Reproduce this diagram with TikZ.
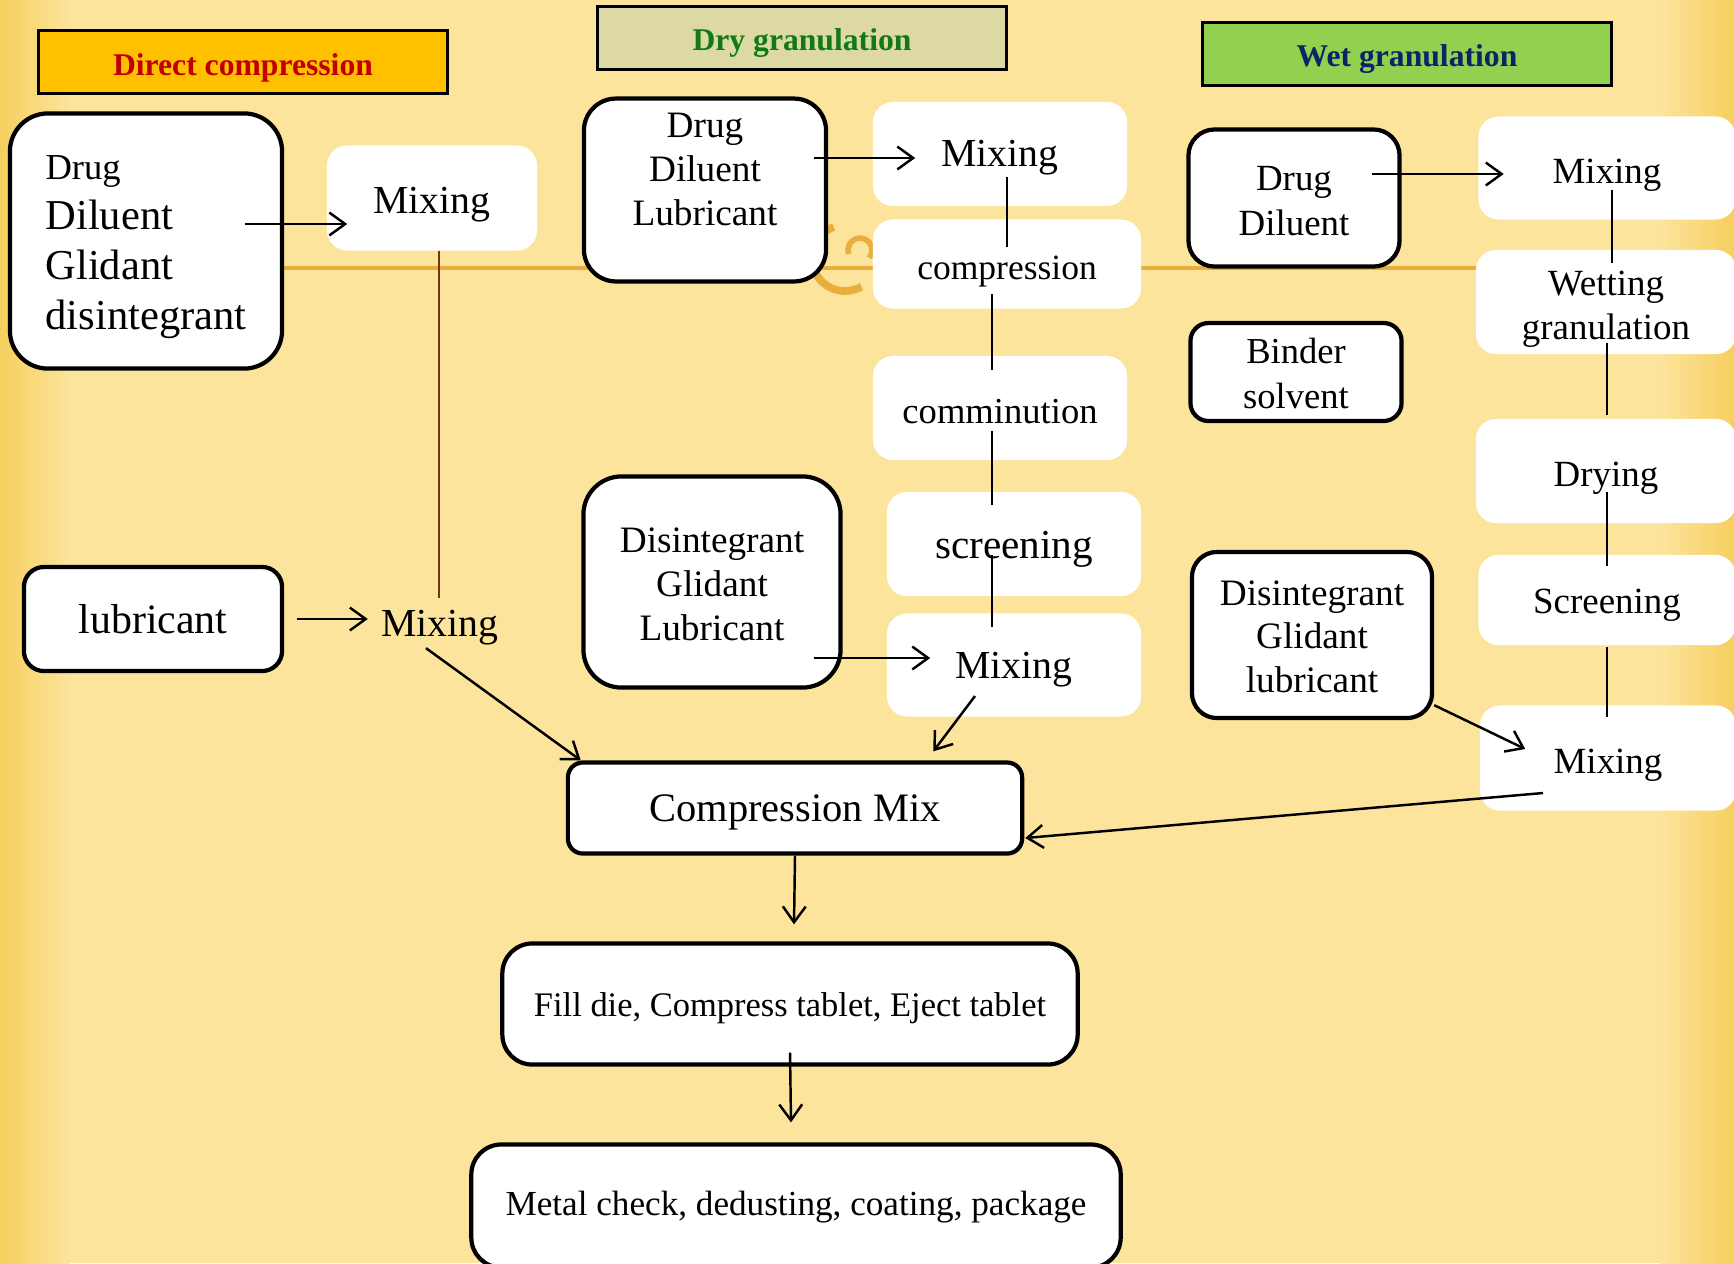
\documentclass[tikz,border=0pt]{standalone}
\usepackage{fontspec}
\setmainfont{Liberation Serif}
\usepackage{tikz}
\usetikzlibrary{calc,positioning,arrows.meta,shapes}
\usepackage{xcolor}

\definecolor{bgyellow}{HTML}{FCE49C}
\definecolor{bgedge}{HTML}{F6CF5E}
\definecolor{swirl}{HTML}{E9AE3E}
\definecolor{dcfill}{HTML}{FFC000}
\definecolor{dctext}{HTML}{C00000}
\definecolor{dgfill}{HTML}{DDD9A4}
\definecolor{dgtext}{HTML}{127A12}
\definecolor{wgfill}{HTML}{92D050}
\definecolor{wgtext}{HTML}{0C2466}
\definecolor{stem}{HTML}{7A2E14}

% raise the first line's top so the text sits a little lower in its box
\newcommand{\lineup}[1]{\rule{0pt}{\dimexpr0.683em+#1\relax}}
\tikzset{textdrop/.style={execute at begin node={\lineup{#1}}}}

\begin{document}
\begin{tikzpicture}[x=0.01cm,y=-0.01cm]
\tikzstyle{header}=[draw, line width=1pt, minimum width=4.09cm, textdrop=3.2pt, font=\fontsize{9}{11}\selectfont\bfseries]
\tikzstyle{inbox}=[draw, fill=white, line width=1.2pt, rounded corners=0.2cm, align=center]
\tikzstyle{stepbox}=[fill=white, rounded corners=0.2cm, align=center, inner sep=0pt]
\tikzstyle{arr}=[line width=0.7pt, -{Straight Barb[length=4.5pt,width=6.5pt]}]
\tikzstyle{link}=[line width=0.8pt]
\tikzstyle{stemline}=[stem, line width=0.7pt]

\useasboundingbox (0,0) rectangle (1734,1263);
\clip (0,0) rectangle (1734,1263);

% background
\fill[bgyellow] (0,0) rectangle (1734,1263);
\shade[left color=bgedge, right color=bgyellow] (0,0) rectangle (70,1263);
\shade[left color=bgyellow, right color=bgedge] (1660,0) rectangle (1734,1263);
\draw[swirl, line width=1pt] (150,268) -- (1600,268);
\draw[swirl, line width=2.2pt] ([shift={(110:0.33cm)}]845,258) arc[start angle=110, end angle=300, radius=0.33cm];
\draw[swirl, line width=1.6pt] ([shift={(200:0.12cm)}]860,250) arc[start angle=200, end angle=-40, radius=0.12cm];

% headers
\node[header, fill=dcfill, text=dctext, minimum height=0.45cm] (hdc) at (243,62) {Direct compression};
\node[header, fill=dgfill, text=dgtext, minimum height=0.62cm] (hdg) at (802,38) {Dry granulation};
\node[header, fill=wgfill, text=wgtext, minimum height=0.62cm] (hwg) at (1407,54) {Wet granulation};

% direct compression
\node[inbox, rounded corners=0.38cm, minimum width=2.72cm, minimum height=2.55cm, align=left, font=\fontsize{12.1}{14.2}\selectfont] (dcin) at (146,241) {\lineup{2.1pt}{\fontsize{10.4}{14.2}\selectfont Drug}\\Diluent\\Glidant\\disintegrant};
\node[stepbox, textdrop=3.8pt, minimum width=2.10cm, minimum height=1.05cm, font=\fontsize{11.3}{13}\selectfont] (dcmix) at (432,198) {Mixing};
\node[inbox, minimum width=2.58cm, minimum height=1.04cm, font=\fontsize{11.9}{14}\selectfont] (dclub) at (153,619) {lubricant};
\node[inner sep=0pt, font=\fontsize{11.3}{13}\selectfont] (dcmix2) at (440,628) {Mixing};
\node[inbox, textdrop=2.5pt, rounded corners=0.15cm, minimum width=4.54cm, minimum height=0.91cm, font=\fontsize{11.5}{14}\selectfont] (cmix) at (795,808) {Compression Mix};

% dry granulation
\node[inbox, rounded corners=0.32cm, minimum width=2.42cm, minimum height=1.78cm, font=\fontsize{10.6}{12.5}\selectfont] (dgin) at (705,190) {\lineup{0.6pt}Drug\\Diluent\\Lubricant\\\mbox{}};
\node[stepbox, textdrop=1.9pt, minimum width=2.54cm, minimum height=1.04cm, font=\fontsize{11.3}{13}\selectfont] (dmix1) at (1000,154) {Mixing};
\node[stepbox, textdrop=3.8pt, minimum width=2.68cm, minimum height=0.89cm, font=\fontsize{10.1}{12}\selectfont] (dcomp) at (1007,264) {compression};
\node[stepbox, textdrop=1.9pt, minimum width=2.54cm, minimum height=1.04cm, font=\fontsize{10.4}{12}\selectfont] (dcomm) at (1000,408) {comminution};
\node[stepbox, textdrop=2.5pt, minimum width=2.54cm, minimum height=1.04cm, font=\fontsize{11.7}{13}\selectfont] (dscr) at (1014,544) {screening};
\node[stepbox, textdrop=2.5pt, minimum width=2.54cm, minimum height=1.03cm, font=\fontsize{11.3}{13}\selectfont] (dmix2) at (1014,665) {Mixing};
\node[inbox, rounded corners=0.38cm, minimum width=2.57cm, minimum height=2.11cm, font=\fontsize{10.6}{12.6}\selectfont] (ddgl) at (712,582) {\lineup{1.2pt}Disintegrant\\Glidant\\Lubricant};

% wet granulation
\node[inbox, rounded corners=0.26cm, minimum width=2.11cm, minimum height=1.37cm, font=\fontsize{10.5}{12.8}\selectfont] (wgin) at (1294,198) {\lineup{1.2pt}Drug\\Diluent};
\node[stepbox, textdrop=3.8pt, minimum width=2.57cm, minimum height=1.03cm, font=\fontsize{10.5}{12.5}\selectfont] (wmix1) at (1607,168) {Mixing};
\node[stepbox, minimum width=2.60cm, minimum height=1.04cm, font=\fontsize{10.5}{12.5}\selectfont] (wwet) at (1606,302) {\lineup{3.8pt}Wetting\\granulation};
\node[stepbox, textdrop=3.8pt, minimum width=2.60cm, minimum height=1.04cm, font=\fontsize{10.5}{12.5}\selectfont] (wdry) at (1606,471) {Drying};
\node[stepbox, textdrop=2.5pt, minimum width=2.57cm, minimum height=0.90cm, font=\fontsize{10.5}{12.5}\selectfont] (wscr) at (1607,600) {Screening};
\node[stepbox, textdrop=3.8pt, minimum width=2.56cm, minimum height=1.05cm, font=\fontsize{10.5}{12.5}\selectfont] (wmix2) at (1608,758) {Mixing};
\node[inbox, rounded corners=0.18cm, minimum width=2.11cm, minimum height=0.91cm, font=\fontsize{10.4}{12.8}\selectfont] (wbind) at (1296,372) {\lineup{1.2pt}Binder\\solvent};
\node[inbox, rounded corners=0.25cm, minimum width=2.40cm, minimum height=1.66cm, font=\fontsize{10.6}{12.5}\selectfont] (wdgl) at (1312,635) {\lineup{0.8pt}Disintegrant\\Glidant\\lubricant};

% common steps
\node[inbox, textdrop=2.5pt, rounded corners=0.3cm, minimum width=5.75cm, minimum height=1.21cm, font=\fontsize{9.8}{12}\selectfont] (press) at (790,1004) {Fill die, Compress tablet, Eject tablet};
\node[inbox, textdrop=0.6pt, rounded corners=0.3cm, minimum width=6.49cm, minimum height=1.23cm, font=\fontsize{10}{12}\selectfont] (pack) at (796,1206) {Metal check, dedusting, coating, package};

% connectors
\draw[arr] ($(dcin.east)+(-39,-17)$) -- ($(dcmix.west)+(21,26)$);
\draw[stemline] ($(dcmix.south)+(7,0)$) -- ($(dcmix2.north)+(-1,-12)$);
\draw[arr] ($(dclub.east)+(13,0)$) -- ($(dclub.east -| dcmix2.west)+(-13,0)$);
\draw[arr] ($(dcmix2.south)+(-14,2)$) -- ($(cmix.north west)+(15,0)$);

\draw[arr] ($(dgin.east)+(-14,-32)$) -- ($(dmix1.west)+(43,4)$);
\draw[link] ($(dmix1.center)+(7,23)$) -- ($(dcomp.center)+(0,-17)$);
\draw[link] ($(dcomp.center)+(-15,30)$) -- ($(dcomm.center)+(-8,-38)$);
\draw[link] ($(dcomm.center)+(-8,23)$) -- ($(dscr.center)+(-22,-39)$);
\draw[link] ($(dscr.center)+(-22,11)$) -- ($(dmix2.center)+(-22,-38)$);
\draw[arr] ($(ddgl.east)+(-29,76)$) -- ($(dmix2.west)+(44,-7)$);
\draw[arr] ($(dmix2.center)+(-39,31)$) -- ($(cmix.north east)+(-91,-9)$);

\draw[arr] ($(wgin.east)+(-30,-24)$) -- ($(wmix1.west)+(26,6)$);
\draw[link] ($(wmix1.center)+(5,22)$) -- ($(wwet.center)+(6,-39)$);
\draw[link] ($(wwet.center)+(1,41)$) -- ($(wdry.center)+(1,-56)$);
\draw[link] ($(wdry.center)+(1,21)$) -- ($(wscr.center)+(0,-34)$);
\draw[link] ($(wscr.center)+(0,47)$) -- ($(wmix2.center)+(-1,-41)$);
\draw[arr] ($(wdgl.south east)+(0,-15)$) -- ($(wmix2.west)+(46,-9)$);
\draw[arr] ($(wmix2.center)+(-65,35)$) -- ($(cmix.east)+(1,30)$);

\draw[arr] (cmix.south) -- ($(press.north)+(4,-17)$);
\draw[arr] ($(press.south)+(0,-14)$) -- ($(pack.north)+(-5,-20)$);
\end{tikzpicture}
\end{document}
